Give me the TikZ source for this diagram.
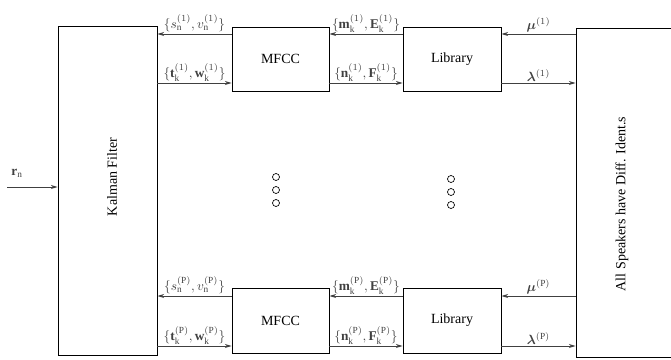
\documentclass[tikz,border=0pt]{standalone}
\usepackage{bm}
\usepackage{fontspec}
\setmainfont{Liberation Serif}
\usetikzlibrary{arrows.meta,calc}
\begin{document}
\begin{tikzpicture}[x=0.75pt,y=-0.75pt,
  blk/.style={draw,line width=0.6pt,inner sep=0pt},
  txt/.style={font=\fontsize{10.5}{12}\selectfont,inner sep=0pt},
  arr/.style={draw=black!75,line width=0.7pt,-{Stealth[length=5pt,width=3pt,inset=1.5pt]}},
  lab/.style={above,inner sep=1pt,text=black!75,font=\fontsize{10}{12}\selectfont},
  dotc/.style={circle,draw,line width=0.5pt,minimum size=5.25pt,inner sep=0pt}]
\clip (0,0) rectangle (671,360);
% blocks
\node[blk,minimum width=74.25pt,minimum height=246.75pt] (kal) at (107.5,190.5) {};
\node[txt,rotate=90] (kaltxt) at (112,177) {Kalman Filter};
\node[blk,txt,minimum width=72.75pt,minimum height=48pt] (mfcc1) at (280.5,59) {MFCC};
\node[blk,txt,minimum width=73.5pt,minimum height=48pt] (lib1) at (452,59) {Library};
\node[blk,txt,minimum width=72.75pt,minimum height=48.75pt] (mfccP) at (280.5,320.5) {MFCC};
\node[blk,txt,minimum width=73.5pt,minimum height=48.75pt] (libP) at (452,320.5) {Library};
\node[blk,minimum width=78pt,minimum height=246.75pt] (spk) at (628,192.5) {};
\node[txt,rotate=90] (spktxt) at (622,204) {All Speakers have Diff. Ident.s};
% rows
\coordinate (ya) at (0,34);
\coordinate (yb) at (0,83);
\coordinate (yc) at (0,296);
\coordinate (yd) at (0,346);
% top group
\draw[arr] (mfcc1.west |- ya) -- node[lab]{$\{s_{\mathrm n}^{(1)},v_{\mathrm n}^{(1)}\}$} (kal.east |- ya);
\draw[arr] (lib1.west |- ya) -- node[lab]{$\{\mathbf m_{\mathrm k}^{(1)},\mathbf E_{\mathrm k}^{(1)}\}$} (mfcc1.east |- ya);
\draw[arr] (spk.west |- ya) -- node[lab]{$\bm\mu^{(1)}$} (lib1.east |- ya);
\draw[arr] (kal.east |- yb) -- node[lab]{$\{\mathbf t_{\mathrm k}^{(1)},\mathbf w_{\mathrm k}^{(1)}\}$} (mfcc1.west |- yb);
\draw[arr] (mfcc1.east |- yb) -- node[lab]{$\{\mathbf n_{\mathrm k}^{(1)},\mathbf F_{\mathrm k}^{(1)}\}$} (lib1.west |- yb);
\draw[arr] (lib1.east |- yb) -- node[lab]{$\bm\lambda^{(1)}$} (spk.west |- yb);
% bottom group
\draw[arr] (mfccP.west |- yc) -- node[lab]{$\{s_{\mathrm n}^{(\mathrm P)},v_{\mathrm n}^{(\mathrm P)}\}$} (kal.east |- yc);
\draw[arr] (libP.west |- yc) -- node[lab]{$\{\mathbf m_{\mathrm k}^{(\mathrm P)},\mathbf E_{\mathrm k}^{(\mathrm P)}\}$} (mfccP.east |- yc);
\draw[arr] (spk.west |- yc) -- node[lab]{$\bm\mu^{(\mathrm P)}$} (libP.east |- yc);
\draw[arr] (kal.east |- yd) -- node[lab]{$\{\mathbf t_{\mathrm k}^{(\mathrm P)},\mathbf w_{\mathrm k}^{(\mathrm P)}\}$} (mfccP.west |- yd);
\draw[arr] (mfccP.east |- yd) -- node[lab]{$\{\mathbf n_{\mathrm k}^{(\mathrm P)},\mathbf F_{\mathrm k}^{(\mathrm P)}\}$} (libP.west |- yd);
\draw[arr] (libP.east |- yd) -- node[lab]{$\bm\lambda^{(\mathrm P)}$} (spk.west |- yd);
% input
\coordinate (rin) at (7,187);
\draw[arr] (rin) -- (kal.west |- rin);
\node[font=\fontsize{10}{12}\selectfont,text=black!75,inner sep=0pt] (rlab) at (17,173) {$\mathbf r_{\mathrm n}$};
% dots
\node[dotc] (d1) at (276,177) {};
\node[dotc] (d2) at (276,190) {};
\node[dotc] (d3) at (276,203) {};
\node[dotc] (d4) at (451,179) {};
\node[dotc] (d5) at (451,192) {};
\node[dotc] (d6) at (451,205) {};
\end{tikzpicture}
\end{document}
